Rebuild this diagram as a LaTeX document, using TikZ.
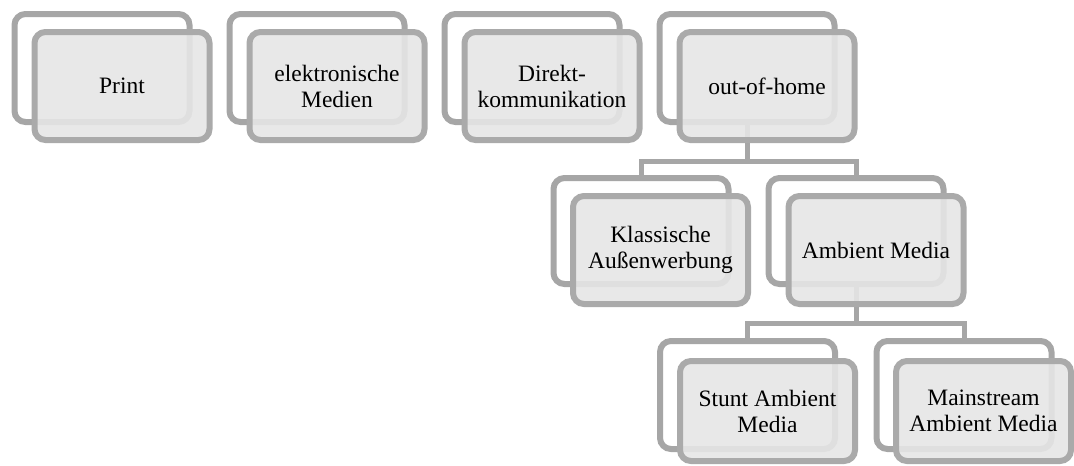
\documentclass[tikz,border=0pt]{standalone}
\usepackage{fontspec}
\setmainfont{Liberation Serif}
\definecolor{bordergray}{HTML}{A6A6A6}
\definecolor{frontgray}{HTML}{AAAAAA}
\definecolor{fillgray}{HTML}{E6E6E6}
\tikzset{
  backbox/.style={draw=bordergray, line width=6pt, fill=white, rounded corners=11pt,
    minimum width=175pt, minimum height=108pt, inner sep=0pt, outer sep=0pt},
  frontbox/.style={draw=frontgray, line width=6pt, fill=fillgray, fill opacity=0.9, text opacity=1,
    rounded corners=11pt, minimum width=175pt, minimum height=108pt, inner sep=0pt, outer sep=0pt,
    align=center, font=\fontsize{23.5}{26}\selectfont},
  conn/.style={draw=bordergray, line width=5pt}
}
\begin{document}
\begin{tikzpicture}[x=1pt,y=-1pt]
\useasboundingbox (0,0) rectangle (1074,466);
% junction coordinates
\coordinate (j1) at (747,161);
\coordinate (j2) at (856,323);
% connectors (behind)
\node[backbox, draw=none, fill=none] (ooh0) at (747,68) {};
\node[backbox, draw=none, fill=none] (kla0) at (641,231) {};
\node[backbox, draw=none, fill=none] (amb0) at (856,231) {};
\node[backbox, draw=none, fill=none] (stu0) at (747.5,395) {};
\node[backbox, draw=none, fill=none] (mai0) at (964,395) {};
\draw[conn] (ooh0.center) -- (j1);
\draw[conn] (kla0.center) |- (j1) -| (amb0.center);
\draw[conn] (amb0.center) -- (j2);
\draw[conn] (stu0.center) |- (j2) -| (mai0.center);
% level 1
\node[backbox] (printb) at (102,68) {};
\node[frontbox] (print) at (122,86) {Print};
\node[backbox] (elekb) at (317,68) {};
\node[frontbox] (elek) at (337,86) {elektronische\\Medien};
\node[backbox] (dirb) at (532,68) {};
\node[frontbox] (dir) at (552,86) {Direkt-\\kommunikation};
\node[backbox] (oohb) at (747,68) {};
\node[frontbox] (ooh) at (767,86) {out-of-home};
% level 2
\node[backbox, minimum height=106pt] (klab) at (641,231) {};
\node[frontbox] (kla) at (660.5,250) {Klassische\\Außenwerbung};
\node[backbox, minimum height=106pt] (ambb) at (856,231) {};
\node[frontbox] (amb) at (876,250) {Ambient Media};
% level 3
\node[backbox] (stub) at (747.5,395) {};
\node[frontbox, minimum height=100pt] (stu) at (767.5,411) {Stunt Ambient\\Media};
\node[backbox] (maib) at (964,395) {};
\node[frontbox, minimum height=100pt] (mai) at (983.5,411) {Mainstream\\Ambient Media};
\end{tikzpicture}
\end{document}
